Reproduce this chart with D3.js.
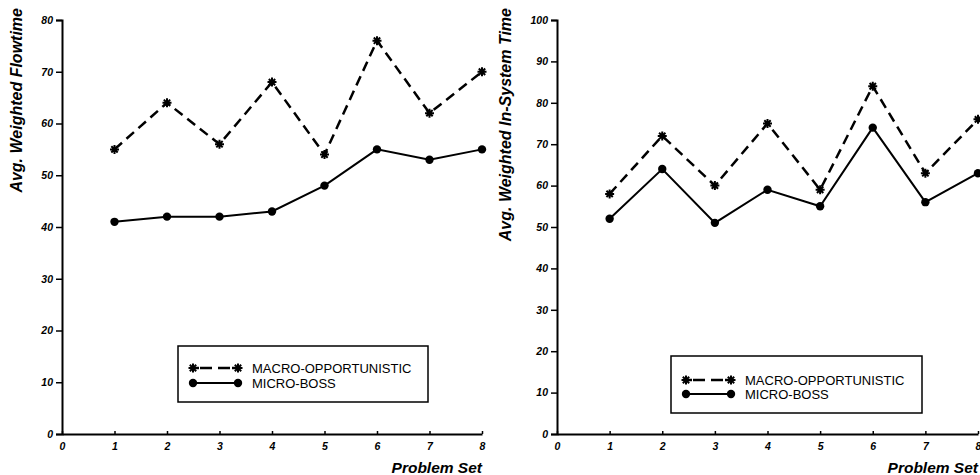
<!DOCTYPE html>
<html>
<head>
<meta charset="utf-8">
<script src="https://cdn.jsdelivr.net/npm/d3@7"></script>
<style>
  body { margin: 0; background: #fff; }
  svg { display: block; }
</style>
</head>
<body>
<div id="chart"></div>
<script>
// Data
const problemSets = [1, 2, 3, 4, 5, 6, 7, 8];
const xTicks = [0, 1, 2, 3, 4, 5, 6, 7, 8];
const seriesNames = ["MACRO-OPPORTUNISTIC", "MICRO-BOSS"];

const flowMacro = [55, 64, 56, 68, 54, 76, 62, 70];
const flowMicro = [41, 42, 42, 43, 48, 55, 53, 55];
const flowTicks = [0, 10, 20, 30, 40, 50, 60, 70, 80];

const insysMacro = [58, 72, 60, 75, 59, 84, 63, 76];
const insysMicro = [52, 64, 51, 59, 55, 74, 56, 63];
const insysTicks = [0, 10, 20, 30, 40, 50, 60, 70, 80, 90, 100];

const width = 980;
const height = 475;

const svg = d3.select("#chart")
    .append("svg")
    .attr("width", width)
    .attr("height", height);

const FONT = "'Liberation Sans', Arial, Helvetica, sans-serif";

// asterisk marker path
function star(r) {
    let p = "";
    for (let i = 0; i < 4; i++) {
        const a = i * Math.PI / 4;
        const dx = r * Math.cos(a), dy = r * Math.sin(a);
        p += `M${-dx},${-dy}L${dx},${dy}`;
    }
    return p;
}

function drawPanel(cfg) {
    const x = d3.scaleLinear().domain([0, 8]).range([cfg.x0, cfg.x1]);
    const y = d3.scaleLinear().domain([0, cfg.yMax]).range([434, 20]);
    const g = svg.append("g");

    // axes
    const yAxis = g.append("g")
        .attr("transform", `translate(${cfg.x0},0)`)
        .call(d3.axisLeft(y).tickValues(cfg.yTicks).tickSize(6).tickPadding(3));
    const xAxis = g.append("g")
        .attr("transform", "translate(0,434)")
        .call(d3.axisBottom(x).tickValues(xTicks).tickSizeInner(-3).tickSizeOuter(0).tickPadding(7));

    [yAxis, xAxis].forEach(a => {
        a.select(".domain").attr("stroke", "#000").attr("stroke-width", 2);
        a.selectAll(".tick line").attr("stroke", "#000").attr("stroke-width", 1.5);
        a.selectAll(".tick text")
            .attr("fill", "#000")
            .style("font-family", FONT)
            .style("font-size", "10.5px")
            .style("font-weight", "bold")
            .style("font-style", "italic");
    });
    xAxis.selectAll(".tick text").attr("dy", "0.85em");

    // axis titles
    g.append("text")
        .attr("transform", `translate(${cfg.titleX},8) rotate(-90)`)
        .attr("text-anchor", "end")
        .attr("dy", "0.35em")
        .style("font-family", FONT)
        .style("font-size", "16px")
        .style("font-weight", "bold")
        .style("font-style", "italic")
        .text(cfg.yTitle);

    g.append("text")
        .attr("x", cfg.x1)
        .attr("y", 473)
        .attr("text-anchor", "end")
        .style("font-family", FONT)
        .style("font-size", "15.5px")
        .style("font-weight", "bold")
        .style("font-style", "italic")
        .text("Problem Set");

    const line = d3.line()
        .x((d, i) => x(problemSets[i]))
        .y(d => y(d));

    // macro (dashed)
    g.append("path")
        .attr("d", line(cfg.macro))
        .attr("fill", "none")
        .attr("stroke", "#000")
        .attr("stroke-width", 2.5)
        .attr("stroke-dasharray", "10,6");
    g.selectAll("path.star")
        .data(cfg.macro)
        .enter()
        .append("path")
        .attr("class", "star")
        .attr("transform", (d, i) => `translate(${x(problemSets[i])},${y(d)})`)
        .attr("d", star(4.5))
        .attr("stroke", "#000")
        .attr("stroke-width", 2);

    // micro (solid)
    g.append("path")
        .attr("d", line(cfg.micro))
        .attr("fill", "none")
        .attr("stroke", "#000")
        .attr("stroke-width", 2);
    g.selectAll("circle.dot")
        .data(cfg.micro)
        .enter()
        .append("circle")
        .attr("class", "dot")
        .attr("cx", (d, i) => x(problemSets[i]))
        .attr("cy", d => y(d))
        .attr("r", 4.2)
        .attr("fill", "#000");

    // legend
    const L = cfg.legend;
    const lg = g.append("g").attr("transform", `translate(${L.x},${L.y})`);
    lg.append("rect")
        .attr("width", L.w)
        .attr("height", L.h)
        .attr("fill", "none")
        .attr("stroke", "#000")
        .attr("stroke-width", 1.5);

    const rows = [L.row1, L.row2];
    seriesNames.forEach((name, i) => {
        const ry = rows[i];
        const lx0 = 15, lx1 = 60;
        if (i === 0) {
            lg.append("line")
                .attr("x1", lx0).attr("x2", lx1)
                .attr("y1", ry).attr("y2", ry)
                .attr("stroke", "#000")
                .attr("stroke-width", 2.5)
                .attr("stroke-dasharray", "0,7,12,6,12,8");
            [lx0, lx1].forEach(px => {
                lg.append("path")
                    .attr("transform", `translate(${px},${ry})`)
                    .attr("d", star(4.5))
                    .attr("stroke", "#000")
                    .attr("stroke-width", 2);
            });
            lg.append("line")
                .attr("x1", lx0).attr("x2", lx0 + 6)
                .attr("y1", ry).attr("y2", ry)
                .attr("stroke", "#000").attr("stroke-width", 2.5);
            lg.append("line")
                .attr("x1", lx1 - 6).attr("x2", lx1)
                .attr("y1", ry).attr("y2", ry)
                .attr("stroke", "#000").attr("stroke-width", 2.5);
        } else {
            lg.append("line")
                .attr("x1", lx0).attr("x2", lx1)
                .attr("y1", ry).attr("y2", ry)
                .attr("stroke", "#000")
                .attr("stroke-width", 2);
            [lx0, lx1].forEach(px => {
                lg.append("circle")
                    .attr("cx", px).attr("cy", ry)
                    .attr("r", 4.2)
                    .attr("fill", "#000");
            });
        }
        lg.append("text")
            .attr("x", 74)
            .attr("y", ry)
            .attr("dy", "0.35em")
            .style("font-family", FONT)
            .style("font-size", "13px")
            .text(name);
    });
}

drawPanel({
    x0: 62, x1: 482, yMax: 80, yTicks: flowTicks,
    macro: flowMacro, micro: flowMicro,
    yTitle: "Avg. Weighted Flowtime", titleX: 16,
    legend: { x: 178, y: 346, w: 250, h: 56, row1: 22, row2: 37 }
});

drawPanel({
    x0: 557, x1: 978, yMax: 100, yTicks: insysTicks,
    macro: insysMacro, micro: insysMicro,
    yTitle: "Avg. Weighted In-System Time", titleX: 505,
    legend: { x: 671, y: 356, w: 251, h: 57, row1: 24, row2: 38 }
});
</script>
</body>
</html>
